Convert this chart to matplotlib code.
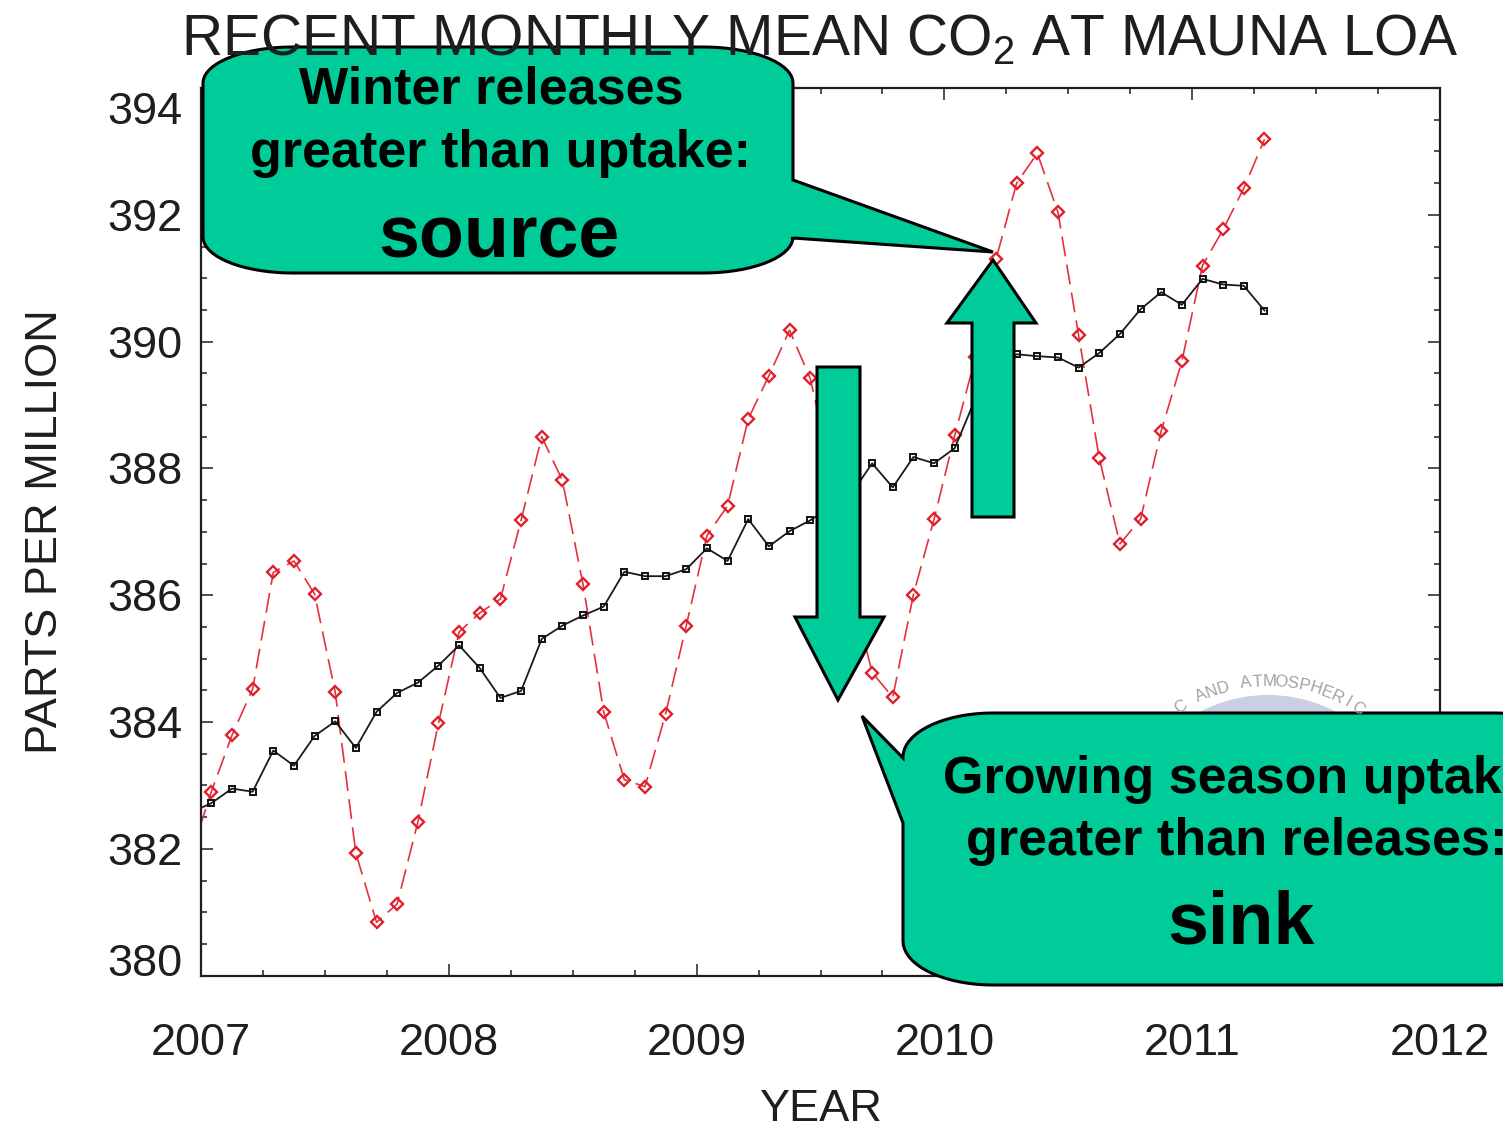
import numpy as np
import matplotlib
matplotlib.use('Agg')
import matplotlib.pyplot as plt
import matplotlib.transforms as mtransforms
from matplotlib.patches import Polygon, Circle, Rectangle
from matplotlib.ticker import MultipleLocator

plt.rcParams['font.family'] = ['Liberation Sans', 'DejaVu Sans']
plt.rcParams['mathtext.default'] = 'regular'

# monthly mean CO2 at Mauna Loa (ppm), Dec 2006 .. Apr 2011
co2_monthly = [381.90,
               382.90, 383.79, 384.52, 386.36, 386.54, 386.02, 384.47, 381.93, 380.84, 381.13, 382.42, 383.98,
               385.42, 385.72, 385.94, 387.18, 388.50, 387.81, 386.17, 384.16, 383.09, 382.98, 384.13, 385.52,
               386.94, 387.41, 388.78, 389.46, 390.18, 389.42, 388.00, 386.10, 384.78, 384.39, 386.01, 387.20,
               388.52, 389.75, 391.30, 392.50, 392.97, 392.04, 390.10, 388.16, 386.81, 387.20, 388.59, 389.69,
               391.20, 391.77, 392.42, 393.19]
# seasonally corrected trend (ppm), same months
co2_trend = [382.57,
             382.72, 382.95, 382.90, 383.55, 383.31, 383.78, 384.01, 383.59, 384.16, 384.46, 384.62, 384.89,
             385.21, 384.85, 384.38, 384.49, 385.31, 385.52, 385.68, 385.82, 386.37, 386.30, 386.30, 386.41,
             386.74, 386.54, 387.20, 386.77, 387.01, 387.18, 387.40, 387.60, 388.08, 387.70, 388.18, 388.08,
             388.32, 389.10, 389.70, 389.80, 389.77, 389.75, 389.59, 389.82, 390.12, 390.51, 390.78, 390.58,
             390.99, 390.90, 390.88, 390.49]
first_year, first_month = 2006, 12
year_ticks = [2007, 2008, 2009, 2010, 2011, 2012]
ppm_ticks = [380, 382, 384, 386, 388, 390, 392, 394]

W, H = 1503, 1127
fig = plt.figure(figsize=(W / 100, H / 100), dpi=100)
left, right, top, bottom = 201, 1440, 88, 975.6
ax = fig.add_axes([left / W, 1 - bottom / H, (right - left) / W, (bottom - top) / H])

# decimal year at mid-month
t = [first_year + (first_month - 1 + i + 0.5) / 12 for i in range(len(co2_monthly))]

ink = '#1e1e1e'
ax.plot(t, co2_monthly, color='#e4323c', lw=1.2, dashes=(12, 5),
        marker='D', ms=6.5, mfc='none', mec='#e0202c', mew=1.7)
ax.plot(t, co2_trend, color='#1a1a1a', lw=1.3,
        marker='s', ms=4.2, mfc='none', mec='#111111', mew=1.4)

ax.set_xlim(2007, 2012)
ax.set_ylim(380, 394)
ax.set_xticks(year_ticks)
ax.set_yticks(ppm_ticks)
ax.xaxis.set_minor_locator(MultipleLocator(0.25))
ax.yaxis.set_minor_locator(MultipleLocator(0.5))
ax.tick_params(which='both', direction='in', top=True, right=True, width=1.1, color=ink)
ax.tick_params(which='major', length=8.5, labelsize=32.5, labelcolor=ink)
ax.tick_params(which='minor', length=4.5)
ax.tick_params(axis='x', pad=34)
ax.tick_params(axis='y', pad=13)
for s in ax.spines.values():
    s.set_linewidth(1.6)
    s.set_color(ink)

# end labels sit inside the axis range
ylabels = ax.get_yticklabels()
for lbl, dy in ((ylabels[0], 16), (ylabels[-1], -20)):
    off = mtransforms.ScaledTranslation(0, dy / 100, fig.dpi_scale_trans)
    lbl.set_transform(lbl.get_transform() + off)

ax.set_xlabel('YEAR', fontsize=32.5, color=ink)
ax.xaxis.set_label_coords(0.5, -(1089 - bottom) / (bottom - top))
ax.set_ylabel('PARTS PER MILLION', fontsize=32.5, color=ink)
ax.yaxis.set_label_coords(-(left - 66) / (right - left), 0.5)

fig.text(820 / W, 1 - 55 / H, 'RECENT MONTHLY MEAN CO$_2$ AT MAUNA LOA',
         ha='center', va='baseline', fontsize=41, color=ink)

# overlay in pixel coordinates
ov = fig.add_axes([0, 0, 1, 1])
ov.set_xlim(0, W)
ov.set_ylim(H, 0)
ov.axis('off')

# faint agency seal behind the lower callout
cx, cy = 1268, 841.5
seal = Circle((cx, cy), 146.5, fc='#bfc3dc', ec='none', alpha=0.8)
ov.add_patch(seal)
seal.set_clip_path(Rectangle((left, top), right - left, bottom - top, transform=ov.transData))
seal_text = 'C AND ATMOSPHERIC'
for ch, ang in zip(seal_text, np.linspace(123, 56, len(seal_text))):
    a = np.radians(ang)
    ov.text(cx + 160 * np.cos(a), cy - 160 * np.sin(a), ch, rotation=ang - 90,
            ha='center', va='center', fontsize=12, color='#a2a2a2')


def corner(x0, y0, rx, ry, a0, a1, n=18):
    a = np.radians(np.linspace(a0, a1, n))
    return list(zip(x0 + rx * np.cos(a), y0 + ry * np.sin(a)))


def bubble(l, t_, r, b, rx, ry, right_tail=(), left_tail=()):
    pts = corner(r - rx, t_ + ry, rx, ry, 270, 360)
    pts += list(right_tail)
    pts += corner(r - rx, b - ry, rx, ry, 0, 90)
    pts += corner(l + rx, b - ry, rx, ry, 90, 180)
    pts += list(left_tail)
    pts += corner(l + rx, t_ + ry, rx, ry, 180, 270)
    return pts


green = '#00cc99'
box_style = dict(closed=True, fc=green, ec='black', lw=2.2, joinstyle='miter')

src = bubble(203, 47, 793, 273, 90, 36, right_tail=[(793, 180), (993, 252), (793, 238)])
ov.add_patch(Polygon(src, **box_style))
snk = bubble(903, 713, 1585, 985, 90, 44, left_tail=[(903, 823), (862, 716), (903, 758)])
ov.add_patch(Polygon(snk, **box_style))

down_arrow = [(817, 367), (860, 367), (860, 617), (884, 617), (838, 700), (795, 617), (817, 617)]
up_arrow = [(972, 517), (1014, 517), (1014, 323), (1036, 323), (993, 260), (947, 323), (972, 323)]
ov.add_patch(Polygon(down_arrow, **box_style))
ov.add_patch(Polygon(up_arrow, **box_style))

bold = dict(ha='center', va='baseline', weight='bold', color='black')
ov.text(491, 103, 'Winter releases', fontsize=37.5, **bold)
ov.text(500, 167, 'greater than uptake:', fontsize=37.5, **bold)
ov.text(499, 257, 'source', fontsize=53, **bold)
# the lower bubble runs past the right edge, as on the slide
ov.text(1237, 793, 'Growing season uptake', fontsize=37.5, **bold)
ov.text(1237, 855, 'greater than releases:', fontsize=37.5, **bold)
ov.text(1241, 943, 'sink', fontsize=53, **bold)

fig.savefig('out.png', dpi=100)
